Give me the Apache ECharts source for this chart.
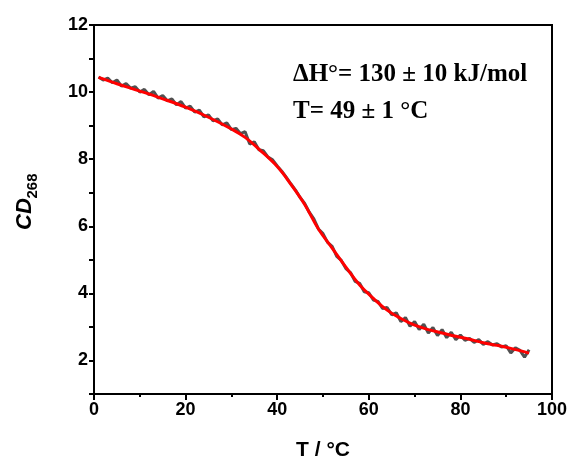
<!DOCTYPE html>
<html><head><meta charset="utf-8">
<script src="https://cdn.jsdelivr.net/npm/echarts@6/dist/echarts.min.js"></script>
<style>html,body{margin:0;padding:0;background:#fff}#c{width:573px;height:466px}</style>
</head><body><div id="c"></div>
<script>
const temps = [1,2,3,4,5,6,7,8,9,10,11,12,13,14,15,16,17,18,19,20,21,22,23,24,25,26,27,28,29,30,31,32,33,34,35,36,37,38,39,40,41,42,43,44,45,46,47,48,49,50,51,52,53,54,55,56,57,58,59,60,61,62,63,64,65,66,67,68,69,70,71,72,73,74,75,76,77,78,79,80,81,82,83,84,85,86,87,88,89,90,91,92,93,94,95];
const cdData = [10.45,10.36,10.42,10.28,10.36,10.18,10.25,10.12,10.16,10.00,10.08,9.92,10.02,9.82,9.90,9.74,9.80,9.62,9.72,9.52,9.58,9.40,9.46,9.26,9.32,9.14,9.20,9.02,9.08,8.88,8.92,8.76,8.82,8.45,8.52,8.28,8.25,8.06,7.98,7.80,7.64,7.46,7.26,7.08,6.86,6.68,6.42,6.22,5.92,5.78,5.52,5.40,5.10,4.98,4.74,4.62,4.36,4.30,4.05,4.02,3.80,3.76,3.55,3.58,3.36,3.42,3.16,3.28,3.02,3.16,2.92,3.08,2.82,2.98,2.74,2.92,2.68,2.84,2.62,2.76,2.60,2.66,2.54,2.62,2.48,2.56,2.46,2.50,2.40,2.44,2.22,2.38,2.30,2.10,2.32];
const fitTemps = [1,5,10,15,20,25,30,33,36,40,43,46,49,52,55,58,61,64,67,70,73,76,79,82,85,88,91,95];
const fitValues = [10.44,10.25,10.03,9.80,9.55,9.25,8.90,8.65,8.30,7.78,7.25,6.65,5.92,5.35,4.78,4.25,3.85,3.50,3.25,3.05,2.92,2.82,2.72,2.63,2.53,2.45,2.36,2.22];
const xTicks = [0,20,40,60,80,100];
const yTicks = [2,4,6,8,10,12];
const annot1 = 'ΔH°= 130 ± 10 kJ/mol';
const annot2 = 'T= 49 ± 1 °C';

const chart = echarts.init(document.getElementById('c'), null, {renderer:'canvas'});
const labelStyle = {color:'#000',fontFamily:'"Liberation Sans", Arial',fontWeight:'bold',fontSize:18};
chart.setOption({
  animation:false,
  grid:{left:94,right:21,top:25,bottom:72,show:true,borderColor:'#000',borderWidth:2,backgroundColor:'transparent'},
  xAxis:{type:'value',min:0,max:100,interval:20,
    axisLine:{show:true,onZero:false,lineStyle:{color:'#000',width:2}},
    axisTick:{show:true,inside:false,length:6,lineStyle:{color:'#000',width:2}},
    minorTick:{show:true,splitNumber:2,length:3,lineStyle:{color:'#000',width:2}},
    splitLine:{show:false},minorSplitLine:{show:false},
    axisLabel:Object.assign({},labelStyle,{margin:7,formatter:v=>xTicks.includes(v)?String(v):''})
  },
  yAxis:{type:'value',min:1,max:12,interval:1,
    axisLine:{show:true,onZero:false,lineStyle:{color:'#000',width:2}},
    axisTick:{show:true,inside:false,length:5,lineStyle:{color:'#000',width:2}},
    splitLine:{show:false},
    axisLabel:Object.assign({},labelStyle,{margin:6,formatter:v=>yTicks.includes(v)?String(v):''})
  },
  series:[
    {type:'line',data:temps.map((t,i)=>[t,cdData[i]]),symbol:'none',lineStyle:{color:'#505050',width:3},z:2},
    {type:'line',data:fitTemps.map((t,i)=>[t,fitValues[i]]),symbol:'none',smooth:0.4,lineStyle:{color:'#ff0000',width:3},z:3}
  ],
  graphic:[
    {type:'text',left:293,top:62,style:{text:annot1,font:'bold 25px "Liberation Serif", "Times New Roman"',fill:'#000'}},
    {type:'text',left:293,top:99,style:{text:annot2,font:'bold 25px "Liberation Serif", "Times New Roman"',fill:'#000'}},
    {type:'text',x:323,y:450,style:{text:'T / °C',font:'bold 21px "Liberation Sans", Arial',fill:'#000',align:'center',verticalAlign:'middle'}},
    {type:'text',x:25,y:214,rotation:Math.PI/2,style:{text:'CD',font:'italic bold 22px "Liberation Sans", Arial',fill:'#000',align:'center',verticalAlign:'middle'}},
    {type:'text',x:33,y:186,rotation:Math.PI/2,style:{text:'268',font:'bold 15px "Liberation Sans", Arial',fill:'#000',align:'center',verticalAlign:'middle'}}
  ]
});
</script></body></html>
